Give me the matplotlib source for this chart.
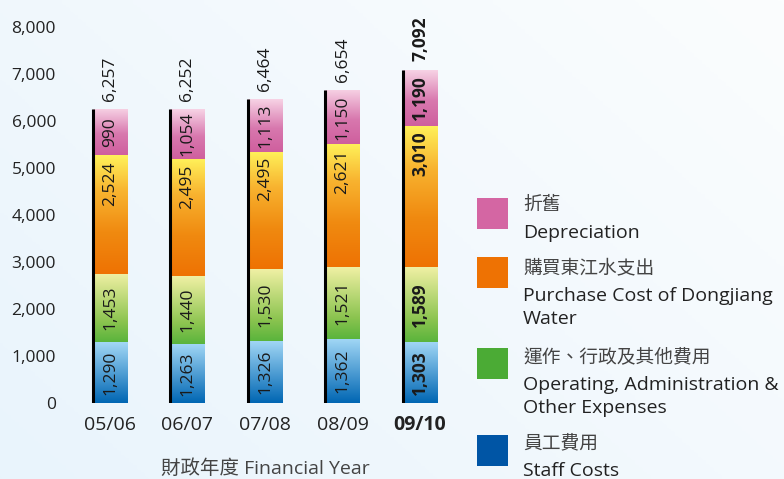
import matplotlib.pyplot as plt
import numpy as np
from matplotlib.colors import LinearSegmentedColormap
from matplotlib.patches import Rectangle

plt.rcParams['font.family'] = ['Open Sans', 'Noto Sans CJK TC', 'DejaVu Sans']

years = ['05/06', '06/07', '07/08', '08/09', '09/10']
staff = [1290, 1263, 1326, 1362, 1303]
operating = [1453, 1440, 1530, 1521, 1589]
dongjiang = [2524, 2495, 2495, 2621, 3010]
depreciation = [990, 1054, 1113, 1150, 1190]
totals = [6257, 6252, 6464, 6654, 7092]

legend_zh = ['折舊', '購買東江水支出', '運作、行政及其他費用', '員工費用']
legend_en = ['Depreciation', 'Purchase Cost of Dongjiang\nWater',
             'Operating, Administration &\nOther Expenses', 'Staff Costs']
legend_colors = ['#d466a3', '#ee7203', '#4bab35', '#0055a5']

# bottom -> top colour stops for each segment gradient
grad_staff = LinearSegmentedColormap.from_list('s', [(0, '#0066b3'), (1, '#a3d8f6')])
grad_oper = LinearSegmentedColormap.from_list('o', [(0, '#5ab43c'), (0.3, '#8cc450'), (1, '#f0f0a4')])
grad_dong = LinearSegmentedColormap.from_list('d', [(0, '#ee7203'), (0.35, '#f08a10'), (0.7, '#f8b430'), (1, '#fff25a')])
grad_dep = LinearSegmentedColormap.from_list('p', [(0, '#cf5f9e'), (0.45, '#d878ae'), (1, '#f7d3e5')])

fig = plt.figure(figsize=(7.84, 4.79), dpi=100)

# soft background wash
bg = fig.add_axes([0, 0, 1, 1], zorder=-10)
gx, gy = np.meshgrid(np.linspace(0, 1, 200), np.linspace(0, 1, 200))
bgval = np.clip(0.6 * gx + 0.4 * gy, 0, 1)
bg_cmap = LinearSegmentedColormap.from_list('bg', ['#e9f4fc', '#fbfdfe'])
bg.imshow(bgval, cmap=bg_cmap, extent=[0, 1, 0, 1], aspect='auto', origin='lower')
bg.axis('off')

x0_px, x1_px = 70, 460
ax = fig.add_axes([x0_px / 784, 76 / 479, (x1_px - x0_px) / 784, 394.8 / 479])
ax.patch.set_alpha(0)

x = np.arange(len(years))
width = 0.44
lab_size = 12.5
series = [(staff, grad_staff), (operating, grad_oper), (dongjiang, grad_dong), (depreciation, grad_dep)]
bottom = np.zeros(len(years))
grad = np.linspace(0, 1, 256).reshape(-1, 1)
for si, (vals, cmap) in enumerate(series):
    bars = ax.bar(x, vals, width, bottom=bottom, color='none', linewidth=0)
    for i, b in enumerate(bars):
        bx, by = b.get_x(), b.get_y()
        im = ax.imshow(grad, cmap=cmap, origin='lower', aspect='auto',
                       extent=[bx, bx + b.get_width(), by, by + b.get_height()], zorder=1)
        im.set_clip_path(b)
        weight = 'bold' if i == len(years) - 1 else 'normal'
        if si == 2:
            ax.annotate(f'{vals[i]:,}', (x[i], by + b.get_height()), xytext=(0, -4),
                        textcoords='offset points', rotation=90, ha='center', va='top',
                        fontsize=lab_size, color='#1a1a1a', fontweight=weight, zorder=3)
        else:
            ax.text(x[i], by + b.get_height() / 2, f'{vals[i]:,}', rotation=90,
                    ha='center', va='center', fontsize=lab_size, color='#1a1a1a',
                    fontweight=weight, zorder=3)
    bottom += np.array(vals)

ax.set_xlim((x0_px - 110) / 77.5, (x1_px - 110) / 77.5)
ax.set_ylim(0, 8400)

# dark edge on the left of each column
ax.vlines(x - width / 2, 0, totals, color='black', linewidth=2.2, zorder=4)

for i, t in enumerate(totals):
    ax.annotate(f'{t:,}', (x[i], t), xytext=(0, 6), textcoords='offset points',
                rotation=90, ha='center', va='bottom', fontsize=lab_size, color='#1a1a1a',
                fontweight='bold' if i == len(years) - 1 else 'normal')

ax.set_yticks(range(0, 8001, 1000))
ax.set_yticklabels([f'{v:,}' for v in range(0, 8001, 1000)])
ax.set_xticks(x)
ax.set_xticklabels(years)
ax.tick_params(length=0, labelsize=12.5, colors='#222222')
ax.tick_params(axis='y', pad=10)
ax.tick_params(axis='x', pad=9, labelsize=14)
ax.get_xticklabels()[-1].set_fontweight('bold')
for s in ax.spines.values():
    s.set_visible(False)

fig.text(265 / 784, 1 - 469 / 479, '財政年度 Financial Year', ha='center', va='center',
         fontsize=14, color='#444444')

# legend
sq_tops = [198, 257, 348, 435]
zh_y = [205, 268, 357, 443]
for col, zh, en, top, zy in zip(legend_colors, legend_zh, legend_en, sq_tops, zh_y):
    fig.patches.append(Rectangle((477 / 784, 1 - (top + 31) / 479), 31 / 784, 31 / 479,
                                 transform=fig.transFigure, facecolor=col, edgecolor='none'))
    fig.text(523 / 784, 1 - zy / 479, zh, ha='left', va='center', fontsize=13.5, color='#444444')
    fig.text(523 / 784, 1 - (zy + 19) / 479, en, ha='left', va='top', fontsize=14,
             color='#222222', linespacing=1.35)

fig.savefig('out.png', dpi=100)
